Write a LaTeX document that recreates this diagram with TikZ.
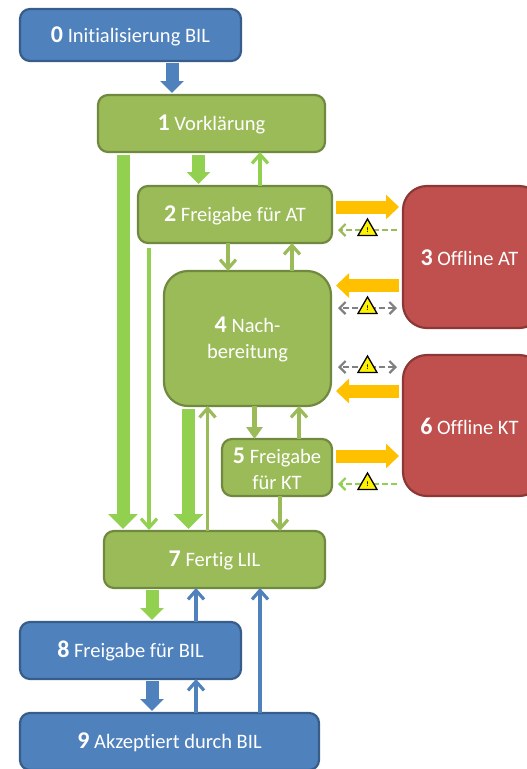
\documentclass[tikz,border=0pt]{standalone}
\usepackage{fontspec}
\setmainfont[Ligatures=NoCommon]{Carlito}
\usetikzlibrary{arrows.meta,shapes.geometric}
\definecolor{cblue}{HTML}{4F81BD}
\definecolor{cblueb}{HTML}{385D8A}
\definecolor{cgreen}{HTML}{9BBB59}
\definecolor{cgreenb}{HTML}{71893F}
\definecolor{cred}{HTML}{C0504D}
\definecolor{credb}{HTML}{8C3836}
\definecolor{clight}{HTML}{92D050}
\definecolor{corange}{HTML}{FFC000}
\definecolor{cgrey}{HTML}{808080}
\tikzset{
  box/.style={rectangle,draw,line width=2.2pt,outer sep=0pt,inner sep=0pt,align=center,text=white,font=\fontsize{20.5}{26}\selectfont,rounded corners=10pt},
  bluebox/.style={box,fill=cblue,draw=cblueb},
  greenbox/.style={box,fill=cgreen,draw=cgreenb},
  redbox/.style={box,fill=cred,draw=credb,rounded corners=24pt},
  bigbox/.style={rounded corners=24pt},
  wide/.style={line width=13pt,-{Triangle[length=12pt,width=23pt]}},
  widest/.style={line width=13pt,-{Triangle[length=15pt,width=29pt]}},
  mid/.style={line width=5pt,-{Triangle[length=12pt,width=16pt]}},
  thin/.style={line width=3.2pt,-{Straight Barb[length=9pt,width=16pt]}},
  side/.style={line width=13pt,color=corange,-{Triangle[length=13pt,width=24pt]}},
  dashline/.style={line width=2.2pt,dash pattern=on 6pt off 3pt},
  warn/.style={regular polygon,regular polygon sides=3,draw=black,fill=yellow,line width=1.3pt,minimum size=22pt,inner sep=0pt,font=\fontsize{7}{7}\bfseries\selectfont,text=black},
}
\newcommand{\nr}[1]{\rule{0pt}{18pt}{\bfseries\fontsize{24}{26}\selectfont #1}}
\begin{document}
\begin{tikzpicture}[x=1pt,y=-1pt]
\useasboundingbox (0,0) rectangle (527,769);
\clip (0,0) rectangle (527,769);
\node[bluebox,minimum width=221pt,minimum height=52pt] (n0) at (130.5,35) {\nr{0} Initialisierung BIL};
\node[greenbox,minimum width=227pt,minimum height=57pt] (n1) at (211.5,123.5) {\nr{1} Vorklärung};
\node[greenbox,minimum width=194pt,minimum height=57pt] (n2) at (235,214.5) {\nr{2} Freigabe für AT};
\node[redbox,minimum width=140pt,minimum height=142pt] (n3) at (473,257) {\nr{3} Offline AT\hspace*{7pt}};
\node[greenbox,bigbox,minimum width=167pt,minimum height=135pt] (n4) at (247.5,338.5) {\nr{4} Nach-\\bereitung};
\node[greenbox,minimum width=110pt,minimum height=57pt] (n5) at (277,467.5) {\nr{5} Freigabe\\für KT};
\node[redbox,minimum width=140pt,minimum height=141pt] (n6) at (473,425.5) {\nr{6} Offline KT\hspace*{7pt}};
\node[greenbox,minimum width=221pt,minimum height=57pt] (n7) at (214.5,559.5) {\nr{7} Fertig LIL};
\node[bluebox,minimum width=221pt,minimum height=57pt] (n8) at (130.5,650.5) {\nr{8} Freigabe für BIL};
\node[bluebox,minimum width=299pt,minimum height=57pt] (n9) at (169.5,741.5) {\nr{9} Akzeptiert durch BIL};
% vertical block arrows
\draw[wide,color=cblue,shorten <=2pt,shorten >=2pt] (172,0 |- n0.south) -- (172,0 |- n1.north);
\draw[widest,color=clight,shorten <=3pt,shorten >=2pt] (123,0 |- n1.south) -- (123,0 |- n7.north);
\draw[wide,color=clight,shorten <=3pt,shorten >=2pt] (198.5,0 |- n1.south) -- (198.5,0 |- n2.north);
\draw[widest,color=clight,shorten <=3pt,shorten >=2pt] (188.5,0 |- n4.south) -- (188.5,0 |- n7.north);
\draw[mid,color=cgreen] (254.5,0 |- n4.south) -- (254.5,0 |- n5.north);
\draw[wide,color=clight,shorten <=2pt,shorten >=2pt] (152,0 |- n7.south) -- (152,0 |- n8.north);
\draw[wide,color=cblue,shorten <=2pt,shorten >=2pt] (152,0 |- n8.south) -- (152,0 |- n9.north);
% thin arrows
\draw[thin,color=clight] (260,0 |- n2.north) -- (260,0 |- n1.south);
\draw[thin,color=clight,shorten <=5pt,shorten >=1pt] (149,0 |- n2.south) -- (149,0 |- n7.north);
\draw[thin,color=cgreen] (228,0 |- n2.south) -- (228,0 |- n4.north);
\draw[thin,color=cgreen] (292,0 |- n4.north) -- (292,0 |- n2.south);
\draw[thin,color=cgreen] (207.5,0 |- n7.north) -- (207.5,0 |- n4.south);
\draw[thin,color=cgreen] (299,0 |- n5.north) -- (299,0 |- n4.south);
\draw[thin,color=cgreen] (280,0 |- n5.south) -- (280,0 |- n7.north);
\draw[thin,color=cblue] (196,0 |- n8.north) -- (196,0 |- n7.south);
\draw[thin,color=cblue] (196,0 |- n9.north) -- (196,0 |- n8.south);
\draw[thin,color=cblue] (260,0 |- n9.north) -- (260,0 |- n7.south);
% orange side arrows
\coordinate (o1) at (0,207);
\coordinate (o2) at (0,285.5);
\coordinate (o3) at (0,391);
\coordinate (o4) at (0,456);
\draw[side,shorten <=4pt,shorten >=4pt] (n2.east |- o1) -- (n3.west |- o1);
\draw[side,shorten <=4pt,shorten >=5pt] (n3.west |- o2) -- (n4.east |- o2);
\draw[side,shorten <=4pt,shorten >=5pt] (n6.west |- o3) -- (n4.east |- o3);
\draw[side,shorten <=4pt,shorten >=4pt] (n5.east |- o4) -- (n6.west |- o4);
% warning connectors
\coordinate (w1c) at (367.5,230);
\coordinate (w2c) at (367.5,308);
\coordinate (w3c) at (367.5,367);
\coordinate (w4c) at (367.5,484);
\draw[dashline,color=cgreen,-{Straight Barb[length=6pt,width=12pt]},shorten <=6pt,shorten >=6pt] (n3.west |- w1c) -- (n2.east |- w1c);
\draw[dashline,color=cgrey,{Straight Barb[length=6pt,width=12pt]}-{Straight Barb[length=6pt,width=12pt]},shorten <=6pt,shorten >=7pt] (n3.west |- w2c) -- (n4.east |- w2c);
\draw[dashline,color=cgrey,{Straight Barb[length=6pt,width=12pt]}-{Straight Barb[length=6pt,width=12pt]},shorten <=6pt,shorten >=7pt] (n6.west |- w3c) -- (n4.east |- w3c);
\draw[dashline,color=clight,-{Straight Barb[length=6pt,width=12pt]},shorten <=6pt,shorten >=6pt] (n6.west |- w4c) -- (n5.east |- w4c);
\node[warn] (w1) at (w1c) {!};
\node[warn] (w2) at (w2c) {!};
\node[warn] (w3) at (w3c) {!};
\node[warn] (w4) at (w4c) {!};
\end{tikzpicture}
\end{document}
